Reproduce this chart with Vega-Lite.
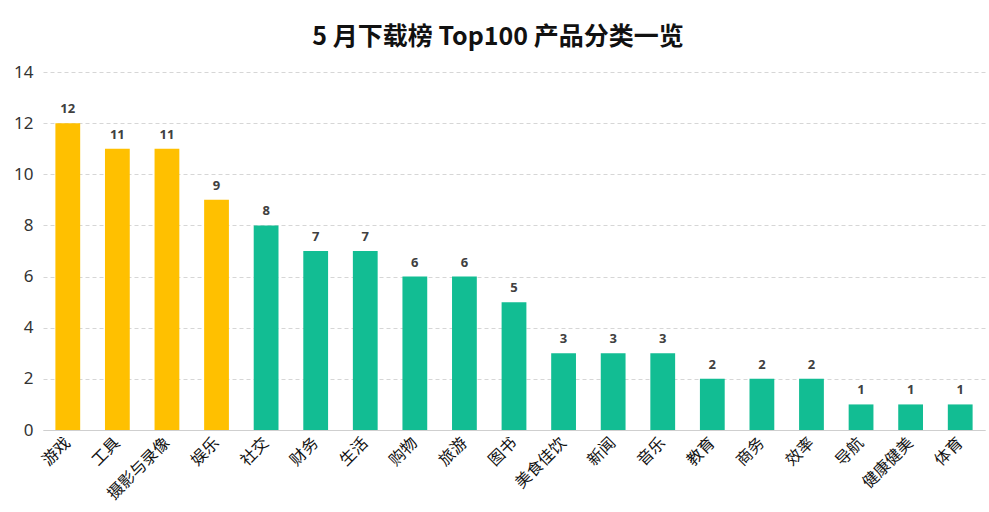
{
  "$schema": "https://vega.github.io/schema/vega-lite/v6.json",
  "width": 942,
  "height": 358,
  "autosize": {"type": "none"},
  "padding": {"left": 43, "top": 72, "right": 4, "bottom": 82},
  "background": "white",
  "title": {
    "text": "5 月下载榜 Top100 产品分类一览",
    "font": "Noto Sans CJK SC",
    "fontSize": 25,
    "fontWeight": "bold",
    "color": "#111111",
    "anchor": "middle",
    "dx": -16,
    "offset": 13
  },
  "data": {
    "values": [
      {"category": "游戏", "count": 12, "group": "top"},
      {"category": "工具", "count": 11, "group": "top"},
      {"category": "摄影与录像", "count": 11, "group": "top"},
      {"category": "娱乐", "count": 9, "group": "top"},
      {"category": "社交", "count": 8, "group": "rest"},
      {"category": "财务", "count": 7, "group": "rest"},
      {"category": "生活", "count": 7, "group": "rest"},
      {"category": "购物", "count": 6, "group": "rest"},
      {"category": "旅游", "count": 6, "group": "rest"},
      {"category": "图书", "count": 5, "group": "rest"},
      {"category": "美食佳饮", "count": 3, "group": "rest"},
      {"category": "新闻", "count": 3, "group": "rest"},
      {"category": "音乐", "count": 3, "group": "rest"},
      {"category": "教育", "count": 2, "group": "rest"},
      {"category": "商务", "count": 2, "group": "rest"},
      {"category": "效率", "count": 2, "group": "rest"},
      {"category": "导航", "count": 1, "group": "rest"},
      {"category": "健康健美", "count": 1, "group": "rest"},
      {"category": "体育", "count": 1, "group": "rest"}
    ]
  },
  "encoding": {
    "x": {
      "field": "category",
      "type": "nominal",
      "sort": null,
      "scale": {"paddingInner": 0.5, "paddingOuter": 0.25},
      "axis": {
        "title": null,
        "labelAngle": -45,
        "labelAlign": "right",
        "labelBaseline": "middle",
        "labelFont": "Noto Sans CJK SC",
        "labelFontSize": 16,
        "labelColor": "#111111",
        "labelPadding": 10,
        "ticks": false,
        "domainColor": "#cfcfcf",
        "domainWidth": 1,
        "grid": false
      }
    },
    "y": {
      "field": "count",
      "type": "quantitative",
      "scale": {"domain": [0, 14]},
      "axis": {
        "title": null,
        "values": [0, 2, 4, 6, 8, 10, 12, 14],
        "labelFont": "Noto Sans",
        "labelFontSize": 17,
        "labelColor": "#333333",
        "labelPadding": 10,
        "ticks": false,
        "domain": false,
        "grid": true,
        "gridDash": [4, 3],
        "gridColor": "#d6d6d6"
      }
    }
  },
  "layer": [
    {
      "mark": {"type": "bar"},
      "encoding": {
        "color": {
          "field": "group",
          "type": "nominal",
          "scale": {"domain": ["top", "rest"], "range": ["#FFC000", "#12BD93"]},
          "legend": null
        }
      }
    },
    {
      "mark": {"type": "text", "dy": -14, "font": "Noto Sans", "fontSize": 13, "fontWeight": "bold", "color": "#404040"},
      "encoding": {"text": {"field": "count", "type": "quantitative"}}
    }
  ],
  "config": {"view": {"stroke": null}}
}
